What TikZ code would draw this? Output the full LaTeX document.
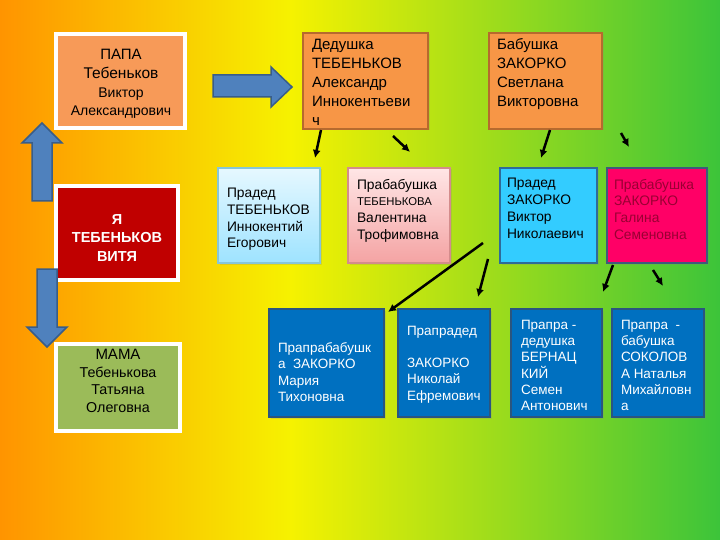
\documentclass[tikz,border=0pt]{standalone}
\usepackage{fontspec}
\setmainfont{Liberation Sans}
\usetikzlibrary{arrows.meta,shadows}
\definecolor{bgorange}{HTML}{FF9400}
\definecolor{bgyellow}{HTML}{F6F200}
\definecolor{bglime}{HTML}{B8E618}
\definecolor{bggreen}{HTML}{3CC43A}
\definecolor{papaorange}{HTML}{F79A58}
\definecolor{boxorange}{HTML}{F79646}
\definecolor{boxbrown}{HTML}{B66A2E}
\definecolor{mered}{HTML}{C00000}
\definecolor{mamagreen}{HTML}{9BBB59}
\definecolor{cyantop}{HTML}{E6F8FF}
\definecolor{cyanbot}{HTML}{9EE3FF}
\definecolor{cyanedge}{HTML}{86C6DA}
\definecolor{pinktop}{HTML}{FFE6E6}
\definecolor{pinkbot}{HTML}{F4A3A3}
\definecolor{pinkedge}{HTML}{D48C8C}
\definecolor{skyblue}{HTML}{33CCFF}
\definecolor{skyedge}{HTML}{2F6B99}
\definecolor{hotpink}{HTML}{FF0066}
\definecolor{hotedge}{HTML}{3D5C7A}
\definecolor{wine}{HTML}{990033}
\definecolor{deepblue}{HTML}{0070C0}
\definecolor{deepedge}{HTML}{2A5580}
\definecolor{arrowblue}{HTML}{4F81BD}
\definecolor{arrowedge}{HTML}{385D8A}

\begin{document}
\begin{tikzpicture}[x=1pt, y=-1pt]
\tikzstyle{every node} = [inner sep=0pt, outer sep=0pt]
\tikzstyle{frame} = [anchor=north west, draw=white, line width=4pt, drop shadow={opacity=0.3, shadow xshift=2pt, shadow yshift=-2pt}]
\tikzstyle{card} = [anchor=north west, draw, line width=1.5pt, drop shadow={opacity=0.2, shadow xshift=1.5pt, shadow yshift=-1.5pt}]
\tikzstyle{big} = [anchor=north west, align=left, font=\fontsize{15}{19}\selectfont]
\tikzstyle{small} = [anchor=north west, align=left, font=\fontsize{13.8}{16.7}\selectfont]
\tikzstyle{tiny} = [anchor=north west, align=left, font=\fontsize{13.5}{16.3}\selectfont]
\tikzstyle{link} = [draw, black, line width=2.5pt, -{Latex[length=8pt, width=8pt]}]
\tikzstyle{block} = [fill=arrowblue, draw=arrowedge, line width=1.5pt]

% background
\shade[left color=bgorange, right color=bgyellow] (0,0) rectangle (291,540);
\shade[left color=bgyellow, middle color=bglime, right color=bggreen] (290,0) rectangle (720,540);
\useasboundingbox (0,0) rectangle (720,540);

% left column
\node[frame, fill=papaorange, minimum width=129pt, minimum height=94pt] (papa) at (56,34) {};
\node[align=center, font=\fontsize{14}{18.7}\selectfont] (papa_t) at (121,84) {{\fontsize{15}{18.7}\selectfont ПАПА}\\{\fontsize{15.5}{18.7}\selectfont Тебеньков}\\Виктор\\Александрович};
\node[frame, fill=mered, minimum width=122pt, minimum height=94pt] (me) at (56,186) {};
\node[align=center, text=white, font=\fontsize{14.5}{18.5}\selectfont\bfseries] (me_t) at (117,238) {Я\\ТЕБЕНЬКОВ\\ВИТЯ};
\node[frame, fill=mamagreen, minimum width=124pt, minimum height=87pt] (mama) at (56,344) {};
\node[align=center, font=\fontsize{14.3}{17.8}\selectfont] (mama_t) at (118,381) {{\fontsize{15}{17.8}\selectfont МАМА}\\Тебенькова\\Татьяна\\Олеговна};

% block arrows
\filldraw[block] (213,75) -- (271,75) -- (271,67) -- (292,87) -- (271,107) -- (271,97) -- (213,97) -- cycle;
\filldraw[block] (32,201) -- (32,143) -- (22,143) -- (42,123) -- (62,143) -- (52,143) -- (52,201) -- cycle;
\filldraw[block] (37,269) -- (57,269) -- (57,327) -- (67,327) -- (47,347) -- (27,327) -- (37,327) -- cycle;

% grandparents
\node[card, draw=boxbrown, fill=boxorange, minimum width=125pt, minimum height=96pt] (ded) at (303,33) {};
\node[big] (ded_t) at (312,39) {Дедушка\\ТЕБЕНЬКОВ\\Александр\\Иннокентьеви\\ч};
\node[card, draw=boxbrown, fill=boxorange, minimum width=113pt, minimum height=96pt] (bab) at (489,33) {};
\node[big] (bab_t) at (497,38.5) {Бабушка\\ЗАКОРКО\\Светлана\\Викторовна};

% great-grandparents
\node[card, draw=cyanedge, top color=cyantop, bottom color=cyanbot, minimum width=102pt, minimum height=95pt] (pra_1) at (218,168) {};
\node[small] (pra_1_t) at (227,188.3) {Прадед\\ТЕБЕНЬКОВ\\Иннокентий\\Егорович};
\node[card, draw=pinkedge, top color=pinktop, bottom color=pinkbot, minimum width=102pt, minimum height=95pt] (pra_2) at (348,168) {};
\node[small] (pra_2_t) at (357,179) {Прабабушка\\{\fontsize{11.3}{16.7}\selectfont ТЕБЕНЬКОВА}\\Валентина\\Трофимовна};
\node[card, draw=skyedge, fill=skyblue, minimum width=97pt, minimum height=95pt] (pra_3) at (500,168) {};
\node[small] (pra_3_t) at (507,178.5) {Прадед\\ЗАКОРКО\\Виктор\\Николаевич};
\node[card, draw=hotedge, fill=hotpink, minimum width=100pt, minimum height=95pt] (pra_4) at (607,168) {};
\node[small, text=wine] (pra_4_t) at (614,179) {Прабабушка\\ЗАКОРКО\\Галина\\Семеновна};

% great-great-grandparents
\node[card, draw=deepedge, fill=deepblue, minimum width=115pt, minimum height=108pt] (prapra_1) at (269,309) {};
\node[tiny, text=white] (prapra_1_t) at (278,342.5) {Прапрабабушк\\а\ \ ЗАКОРКО\\Мария\\Тихоновна};
\node[card, draw=deepedge, fill=deepblue, minimum width=92pt, minimum height=108pt] (prapra_2) at (398,309) {};
\node[tiny, text=white] (prapra_2_t) at (407,326) {Прапрадед\\[16pt]ЗАКОРКО\\Николай\\Ефремович};
\node[card, draw=deepedge, fill=deepblue, minimum width=91pt, minimum height=108pt] (prapra_3) at (511,309) {};
\node[tiny, text=white] (prapra_3_t) at (521,320) {Прапра -\\дедушка\\БЕРНАЦ\\КИЙ\\Семен\\Антонович};
\node[card, draw=deepedge, fill=deepblue, minimum width=92pt, minimum height=108pt] (prapra_4) at (612,309) {};
\node[tiny, text=white] (prapra_4_t) at (621,320) {Прапра\ \ -\\бабушка\\СОКОЛОВ\\А Наталья\\Михайловн\\а};

% arrows
\coordinate (s_1) at (321,130); \coordinate (t_1) at (315,158);
\coordinate (s_2) at (393,136); \coordinate (t_2) at (410,152);
\coordinate (s_3) at (550,130); \coordinate (t_3) at (541,158);
\coordinate (s_4) at (621,133); \coordinate (t_4) at (629,147);
\coordinate (s_5) at (483,243); \coordinate (t_5) at (388,312);
\coordinate (s_6) at (488,259); \coordinate (t_6) at (478,297);
\coordinate (s_7) at (613,265); \coordinate (t_7) at (603,292);
\coordinate (s_8) at (653,270); \coordinate (t_8) at (663,286);
\draw[link] (s_1) -- (t_1);
\draw[link] (s_2) -- (t_2);
\draw[link] (s_3) -- (t_3);
\draw[link] (s_4) -- (t_4);
\draw[link] (s_5) -- (t_5);
\draw[link] (s_6) -- (t_6);
\draw[link] (s_7) -- (t_7);
\draw[link] (s_8) -- (t_8);
\end{tikzpicture}
\end{document}
